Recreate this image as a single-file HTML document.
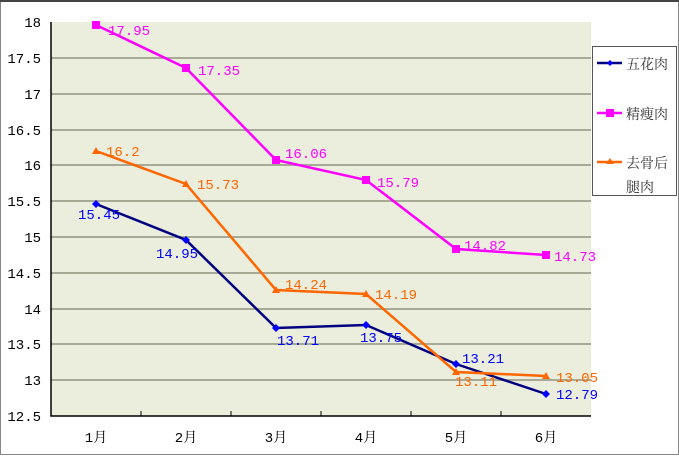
<!DOCTYPE html>
<html><head><meta charset="utf-8"><style>
body{margin:0;background:#fff}
svg text{font-family:"Liberation Mono","Noto Serif CJK SC",monospace;font-size:14px}
</style></head><body>
<svg width="679" height="455" xmlns="http://www.w3.org/2000/svg">
<rect x="0.5" y="0.5" width="678" height="454" fill="#fff" stroke="#888"/>
<line x1="0" y1="1" x2="679" y2="1" stroke="#444" stroke-width="2"/>
<rect x="51" y="22" width="540" height="394" fill="#ebeedd"/>
<g stroke="#a8aa98" stroke-width="2">
<line x1="51" y1="58" x2="591" y2="58"/><line x1="51" y1="94" x2="591" y2="94"/>
<line x1="51" y1="130" x2="591" y2="130"/><line x1="51" y1="165" x2="591" y2="165"/>
<line x1="51" y1="201" x2="591" y2="201"/><line x1="51" y1="237" x2="591" y2="237"/>
<line x1="51" y1="273" x2="591" y2="273"/><line x1="51" y1="309" x2="591" y2="309"/>
<line x1="51" y1="344" x2="591" y2="344"/><line x1="51" y1="380" x2="591" y2="380"/>
</g>
<path d="M51 22V416H591" fill="none" stroke="#000" stroke-width="1.5"/>
<g stroke="#000"><line x1="141" y1="416" x2="141" y2="411"/><line x1="231" y1="416" x2="231" y2="411"/><line x1="321" y1="416" x2="321" y2="411"/><line x1="411" y1="416" x2="411" y2="411"/><line x1="501" y1="416" x2="501" y2="411"/></g>
<g font-size="14" text-anchor="end" fill="#000">
<text x="41" y="27">18</text><text x="41" y="63">17.5</text><text x="41" y="99">17</text><text x="41" y="135">16.5</text><text x="41" y="170">16</text><text x="41" y="206">15.5</text><text x="41" y="242">15</text><text x="41" y="278">14.5</text><text x="41" y="314">14</text><text x="41" y="349">13.5</text><text x="41" y="385">13</text><text x="41" y="421">12.5</text>
</g>
<g text-anchor="middle" fill="#000"><text x="96" y="442">1月</text><text x="186" y="442">2月</text><text x="276" y="442">3月</text><text x="366" y="442">4月</text><text x="456" y="442">5月</text><text x="546" y="442">6月</text></g>
<polyline points="96,204 186,240 276,328 366,325 456,364 546,394" fill="none" stroke="#000080" stroke-width="2.5"/>
<g fill="#0000ff"><path d="M96 200l4 4-4 4-4-4z"/><path d="M186 236l4 4-4 4-4-4z"/><path d="M276 324l4 4-4 4-4-4z"/><path d="M366 321l4 4-4 4-4-4z"/><path d="M456 360l4 4-4 4-4-4z"/><path d="M546 390l4 4-4 4-4-4z"/></g>
<polyline points="96,25 186,68 276,160 366,180 456,249 546,255" fill="none" stroke="#ff00ff" stroke-width="2.5"/>
<g fill="#ff00ff"><rect x="92" y="21" width="8" height="8"/><rect x="182" y="64" width="8" height="8"/><rect x="272" y="156" width="8" height="8"/><rect x="362" y="176" width="8" height="8"/><rect x="452" y="245" width="8" height="8"/><rect x="542" y="251" width="8" height="8"/></g>
<polyline points="96,151 186,184 276,290 366,294 456,372 546,376" fill="none" stroke="#ff6600" stroke-width="2.5"/>
<g fill="#ff6600"><path d="M96 147l4 7h-8z"/><path d="M186 180l4 7h-8z"/><path d="M276 286l4 7h-8z"/><path d="M366 290l4 7h-8z"/><path d="M456 368l4 7h-8z"/><path d="M546 372l4 7h-8z"/></g>
<g fill="#ff00ff"><text x="108" y="35">17.95</text><text x="198" y="75">17.35</text><text x="285" y="158">16.06</text><text x="377" y="187">15.79</text><text x="464" y="250">14.82</text><text x="554" y="261">14.73</text></g>
<g fill="#ff6600"><text x="106" y="156">16.2</text><text x="197" y="189">15.73</text><text x="285" y="289">14.24</text><text x="375" y="299">14.19</text><text x="455" y="386">13.11</text><text x="556" y="382">13.05</text></g>
<g fill="#0000ff"><text x="78" y="219">15.45</text><text x="156" y="258">14.95</text><text x="277" y="345">13.71</text><text x="360" y="342">13.75</text><text x="462" y="363">13.21</text><text x="556" y="399">12.79</text></g>
<rect x="592.5" y="46.5" width="84" height="149" fill="#fff" stroke="#555"/>
<line x1="597" y1="63" x2="622" y2="63" stroke="#000080" stroke-width="2.5"/><path d="M610 60l3 3-3 3-3-3z" fill="#0000ff"/>
<line x1="597" y1="113" x2="622" y2="113" stroke="#ff00ff" stroke-width="2.5"/><rect x="606" y="109" width="8" height="8" fill="#ff00ff"/>
<line x1="597" y1="162" x2="622" y2="162" stroke="#ff6600" stroke-width="2.5"/><path d="M610 158l4 6h-8z" fill="#ff6600"/>
<g fill="#333" font-size="15"><text x="626" y="69">五花肉</text><text x="626" y="119">精瘦肉</text><text x="626" y="168">去骨后</text><text x="626" y="192">腿肉</text></g>
</svg>
</body></html>
